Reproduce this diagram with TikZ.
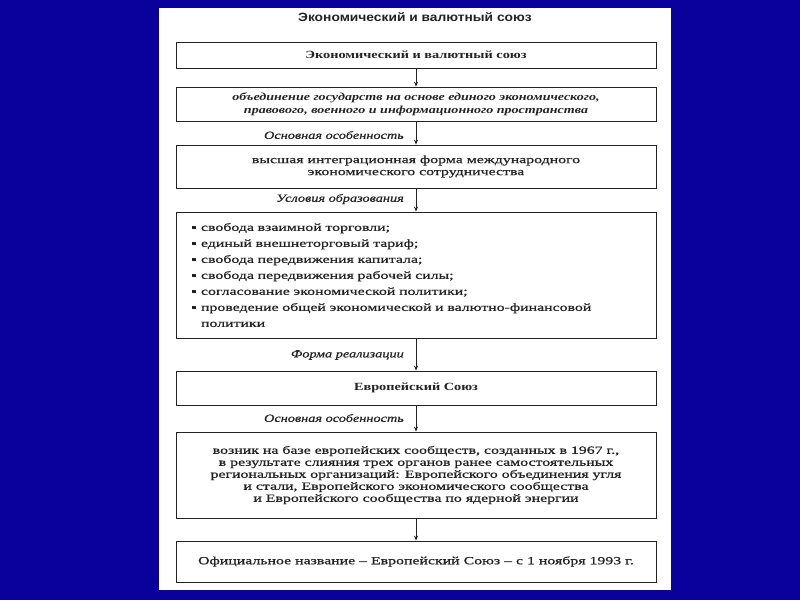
\documentclass[tikz,border=0pt]{standalone}
\usepackage{fontspec}
\setmainfont{Liberation Serif}
\newfontfamily\bodyf[FakeStretch=1.44, FakeBold=0.8]{Liberation Serif}
\newfontfamily\boldf[FakeStretch=1.3]{Liberation Serif}
\newfontfamily\labf[FakeStretch=1.3, FakeBold=0.6]{Liberation Serif}
\newfontfamily\titlef[FakeStretch=1.15]{Liberation Sans}
\usetikzlibrary{arrows.meta}
\definecolor{bgblue}{RGB}{10,0,155}
\definecolor{ink}{RGB}{35,35,35}
\newcommand\bul{\makebox[9pt][l]{\rule[1.5pt]{3.5pt}{3.5pt}}}
\begin{document}
\begin{tikzpicture}[x=1pt,y=-1pt,
  box/.style={draw=ink, line width=0.8pt, minimum width=480pt, inner sep=0pt, text=ink, align=center, font=\bodyf\fontsize{11}{12}\selectfont},
  lab/.style={anchor=east, text=ink, inner sep=0pt, font=\labf\itshape\fontsize{11}{12}\selectfont},
  arr/.style={draw=ink, line width=0.8pt, -{Stealth[length=5pt,width=4pt]}}]
\fill[bgblue] (0,0) rectangle (800,600);
\fill[white] (159,8) rectangle (671,590);
\useasboundingbox (0,0) rectangle (800,600);

\node[text=ink, inner sep=0pt, font=\titlef\bfseries\fontsize{12}{13}\selectfont] (title) at (415,17) {Экономический и валютный союз};

\node[box, minimum height=26pt, font=\boldf\bfseries\fontsize{11}{12}\selectfont] (b1) at (416,55) {Экономический и валютный союз};
\node[box, minimum height=34pt, font=\boldf\bfseries\itshape\fontsize{10.8}{13}\selectfont] (b2) at (416,104) {объединение государств на основе единого экономического,\\ правового, военного и информационного пространства};
\node[box, minimum height=43pt] (b3) at (416,166.5) {высшая интеграционная форма международного\\ экономического сотрудничества};
\node[box, minimum height=126pt, text width=448pt, inner xsep=16pt, align=left, font=\bodyf\fontsize{11}{16}\selectfont] (b4) at (416,275) {\bul свобода взаимной торговли;\\ \bul единый внешнеторговый тариф;\\ \bul свобода передвижения капитала;\\ \bul свобода передвижения рабочей силы;\\ \bul согласование экономической политики;\\ \bul проведение общей экономической и валютно-финансовой\\ \hspace*{9pt}политики};
\node[box, minimum height=34pt, font=\boldf\bfseries\fontsize{11}{12}\selectfont] (b5) at (416,388) {Европейский Союз};
\node[box, minimum height=86pt] (b6) at (416,475) {возник на базе европейских сообществ, созданных в 1967 г.,\\ в результате слияния трех органов ранее самостоятельных\\ региональных организаций: Европейского объединения угля\\ и стали, Европейского экономического сообщества\\ и Европейского сообщества по ядерной энергии};
\node[box, minimum height=41pt] (b7) at (416,561.5) {Официальное название – Европейский Союз – с 1 ноября 1993 г.};

\draw[arr] (b1) -- (b2);
\draw[arr] (b2) -- (b3);
\draw[arr] (b3) -- (b4);
\draw[arr] (b4) -- (b5);
\draw[arr] (b5) -- (b6);
\draw[arr] (b6) -- (b7);

\node[lab] (l1) at (404,135) {Основная особенность};
\node[lab] (l2) at (404,199) {Условия образования};
\node[lab] (l3) at (404,355) {Форма реализации};
\node[lab] (l4) at (404,418) {Основная особенность};
\end{tikzpicture}
\end{document}
